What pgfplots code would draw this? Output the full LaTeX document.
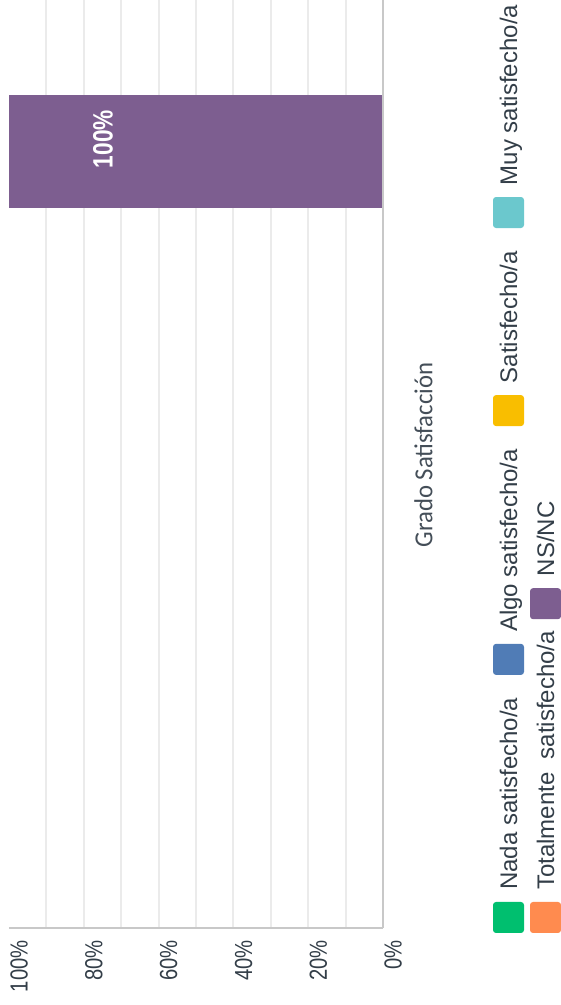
\documentclass[border=0pt]{standalone}
\usepackage{pgfplots}
\pgfplotsset{compat=1.18}
\usepackage{fontspec}
\setmainfont{Liberation Sans}
\newfontfamily\tickfont[FakeStretch=0.82]{Liberation Sans}
\newfontfamily\barfont[FakeStretch=0.81]{Liberation Sans}
\newfontfamily\titlefont[FakeStretch=0.95]{Carlito}
\definecolor{cNada}{HTML}{00BF6F}
\definecolor{cAlgo}{HTML}{507CB6}
\definecolor{cSat}{HTML}{F9BE00}
\definecolor{cMuy}{HTML}{6BC8CD}
\definecolor{cTot}{HTML}{FF8B4F}
\definecolor{cNS}{HTML}{7D5E90}
\definecolor{txt}{HTML}{333E48}
\definecolor{ttl}{HTML}{444E58}
\definecolor{gridc}{HTML}{EBEBEB}
\definecolor{axisc}{HTML}{C8C8C8}
\pgfplotsset{
  mylegimg/.style={legend image code/.code={%
    \fill[##1, rounded corners=1.5pt, overlay] (-3.45pt,-21.5pt) rectangle (12.05pt,-6pt);}},
  mylegstyle/.style={draw=none, fill=none, inner sep=0pt, outer sep=0pt,
    anchor=south, font=\fontsize{12}{14}\selectfont, text=txt,
    nodes={inner sep=0pt, rotate=90, anchor=west, text height=8.6pt, text depth=0pt},
    /tikz/every odd column/.style={column sep=0pt},
    /tikz/every even column/.style={column sep=0pt}},
}
\begin{document}
\begin{tikzpicture}
\path[use as bounding box] (0pt,0pt) rectangle (280.5pt,502.5pt);
\begin{axis}[
  at={(4.5pt,38.5pt)}, anchor=south west,
  scale only axis, width=187pt, height=464pt,
  xbar stacked, bar width=1,
  x dir=reverse,
  xmin=0, xmax=100,
  ymin=-5.8717, ymax=2.3407,
  ytick=\empty,
  xtick={0,20,40,60,80,100},
  xticklabels={0\%,20\%,40\%,60\%,80\%,100\%},
  major tick length=0pt,
  extra x ticks={10,20,30,40,50,60,70,80,90},
  extra x tick labels={},
  extra x tick style={grid=major},
  major grid style={gridc, line width=1pt},
  axis line style={draw=none},
  xticklabel style={xshift=0.5pt, yshift=-6pt, rotate=90, anchor=north east,
    inner sep=0pt, text=txt, font=\tickfont\fontsize{12.35}{13}\selectfont},
  clip=false,
  ylabel={Grado Satisfacción},
  every axis y label/.style={at={(axis description cs:1.1083,0.5097)},
    rotate=90, anchor=center, text=ttl, font=\titlefont\fontsize{13}{15}\selectfont},
  mylegimg,
  legend columns=1,
  reverse legend,
  legend style={mylegstyle, row sep=33pt,
    at={(axis description cs:1.33556,0.040948)}},
]
\draw[axisc, line width=1.3pt] (axis cs:0,-5.8717) -- (axis cs:0,2.3407);
\draw[axisc, line width=1.25pt] (axis cs:100,-5.8717) -- (axis cs:0,-5.8717);
\addplot[fill=cNada, draw=none] coordinates {(0,1)};
\addlegendentry{Nada satisfecho/a}
\addplot[fill=cAlgo, draw=none] coordinates {(0,1)};
\addlegendentry{Algo satisfecho/a}
\addplot[fill=cSat, draw=none] coordinates {(0,1)};
\addlegendentry{Satisfecho/a}
\addplot[fill=cMuy, draw=none] coordinates {(0,1)};
\addlegendentry{Muy satisfecho/a}
\addplot[fill=cTot, draw=none, forget plot] coordinates {(0,1)};
\addplot[fill=cNS, draw=none, forget plot] coordinates {(100,1)};
\coordinate (barlab) at (axis cs:74.9,1.11);
\end{axis}
\node[rotate=90, text=white, font=\barfont\bfseries\fontsize{14}{14}\selectfont]
  at (barlab) {100\%};
\begin{axis}[
  at={(4.5pt,38.5pt)}, anchor=south west,
  scale only axis, width=187pt, height=464pt,
  hide axis, xmin=0, xmax=1, ymin=0, ymax=1,
  mylegimg,
  legend columns=1,
  reverse legend,
  legend style={mylegstyle, row sep=27.5pt,
    at={(axis description cs:1.43449,0.040948)}},
]
\addlegendimage{fill=cTot, draw=none}
\addlegendentry{Totalmente\ \ satisfecho/a}
\addlegendimage{fill=cNS, draw=none}
\addlegendentry{NS/NC}
\end{axis}
\end{tikzpicture}
\end{document}
